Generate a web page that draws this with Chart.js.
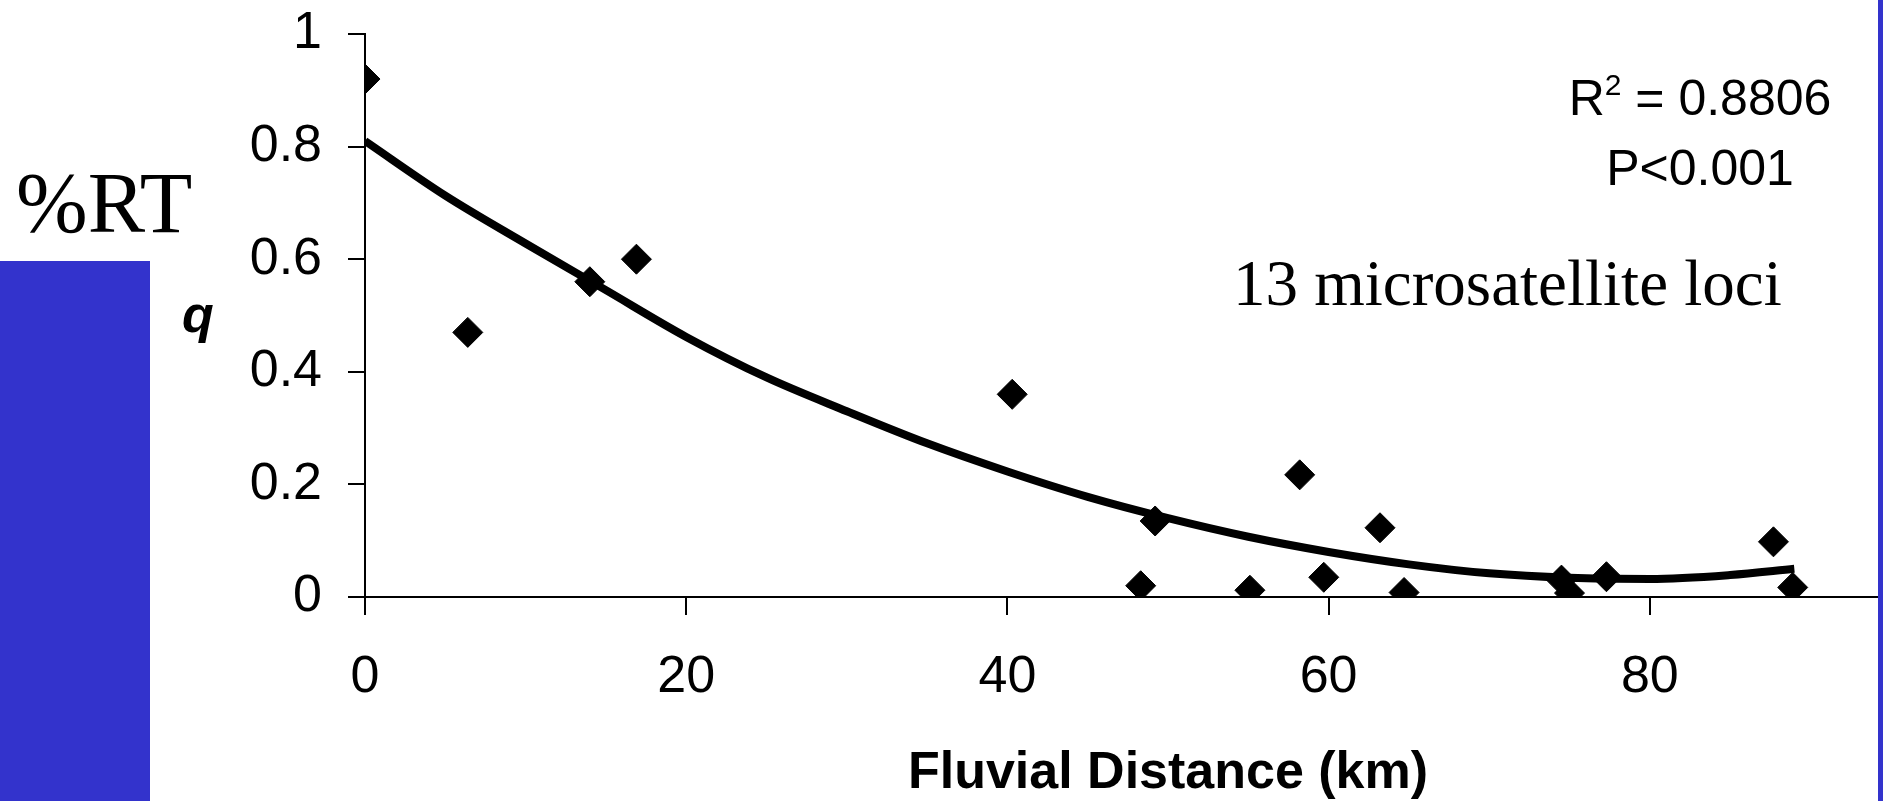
<!DOCTYPE html>
<html>
<head>
<meta charset="utf-8">
<script src="https://cdn.jsdelivr.net/npm/chart.js@4/dist/chart.umd.min.js"></script>
<style>
  html, body { margin: 0; padding: 0; background: #fff; overflow: hidden; }
  #wrap { position: relative; width: 2020px; height: 801px; }
  #wrap canvas { position: absolute; left: 0; top: 0; }
  .bar { position: absolute; background: #3333cc; }
</style>
</head>
<body>
<div id="wrap">
  <canvas id="chart"></canvas>
  <div class="bar" style="left:0;top:261px;width:150px;height:540px"></div>
  <div class="bar" style="left:1878px;top:0;width:142px;height:801px"></div>
</div>
<script>
// sampled sites: fluvial distance (km) and q
const distanceKm = [0, 6.4, 14.0, 16.9, 40.3, 48.3, 49.2, 55.1, 58.2, 59.7, 63.2, 64.7, 74.5, 75.0, 77.3, 87.7, 88.9];
const qValues = [0.92, 0.47, 0.56, 0.60, 0.36, 0.02, 0.135, 0.012, 0.217, 0.035, 0.123, 0.008, 0.03, 0.007, 0.036, 0.098, 0.017];

// polynomial trend line as drawn
const trendKm = [0, 5, 10, 15, 20, 25, 30, 35, 40, 45, 50, 55, 60, 65, 70, 75, 80, 85, 89];
const trendQ = [0.81, 0.713, 0.628, 0.545, 0.462, 0.39, 0.33, 0.273, 0.223, 0.178, 0.14, 0.107, 0.08, 0.058, 0.042, 0.034, 0.032, 0.039, 0.05];

const SANS = '"Liberation Sans", Arial, sans-serif';
const SERIF = '"Liberation Serif", "Times New Roman", serif';

const labelsPlugin = {
  id: "labels",
  afterDraw(chart) {
    const ctx = chart.ctx;
    ctx.save();
    ctx.fillStyle = "#000";
    ctx.textBaseline = "alphabetic";

    ctx.textAlign = "left";
    ctx.font = "86px " + SERIF;
    ctx.fillText("%RT", 16, 232);

    // y axis title sits upright beside the ticks
    ctx.font = "italic bold 52px " + SANS;
    ctx.fillText("q", 182, 332);

    // R² and P value, centred on one column
    const cx = 1700;
    ctx.font = "50px " + SANS;
    const wR = ctx.measureText("R").width;
    const wRest = ctx.measureText(" = 0.8806").width;
    ctx.font = "30px " + SANS;
    const wSup = ctx.measureText("2").width;
    const x = cx - (wR + wSup + wRest) / 2;
    ctx.font = "50px " + SANS;
    ctx.fillText("R", x, 115);
    ctx.font = "30px " + SANS;
    ctx.fillText("2", x + wR, 95);
    ctx.font = "50px " + SANS;
    ctx.fillText(" = 0.8806", x + wR + wSup, 115);
    ctx.textAlign = "center";
    ctx.fillText("P<0.001", cx, 185);

    ctx.textAlign = "left";
    ctx.font = "65px " + SERIF;
    ctx.fillText("13 microsatellite loci", 1233, 305);
    ctx.restore();
  },
};

new Chart(document.getElementById("chart"), {
  type: "scatter",
  data: {
    datasets: [
      {
        data: distanceKm.map((d, i) => ({ x: d, y: qValues[i] })),
        pointStyle: "rectRot",
        pointRadius: 15,
        pointHoverRadius: 15,
        backgroundColor: "#000",
        borderColor: "#000",
        borderWidth: 1,
      },
      {
        type: "line",
        data: trendKm.map((d, i) => ({ x: d, y: trendQ[i] })),
        borderColor: "#000",
        borderWidth: 8,
        pointRadius: 0,
        cubicInterpolationMode: "monotone",
        fill: false,
      },
    ],
  },
  options: {
    responsive: true,
    maintainAspectRatio: false,
    animation: false,
    layout: { padding: { left: 0, top: 34, right: 49, bottom: 0 } },
    plugins: { legend: { display: false }, tooltip: { enabled: false } },
    scales: {
      x: {
        type: "linear",
        min: 0,
        max: 100,
        afterFit: (scale) => {
          scale.height = 204;
          scale.paddingLeft = 0;
          scale.paddingRight = 0;
        },
        grid: { drawOnChartArea: false, tickLength: 18, color: "#000", lineWidth: 2 },
        border: { color: "#000", width: 2 },
        ticks: { stepSize: 20, color: "#000", padding: 31, font: { family: SANS, size: 52 } },
        title: {
          display: true,
          text: "Fluvial Distance (km)",
          color: "#000",
          font: { family: SANS, size: 52, weight: "bold", lineHeight: 1 },
          padding: { top: 0, bottom: 1 },
        },
      },
      y: {
        min: 0,
        max: 1,
        afterFit: (scale) => {
          scale.width = 365;
          scale.paddingTop = 0;
          scale.paddingBottom = 0;
        },
        grid: { drawOnChartArea: false, tickLength: 17, color: "#000", lineWidth: 2 },
        border: { color: "#000", width: 2 },
        ticks: {
          stepSize: 0.2,
          color: "#000",
          padding: 26,
          font: { family: SANS, size: 52 },
          callback: (v) => String(+v.toFixed(1)),
        },
      },
    },
  },
  plugins: [labelsPlugin],
});
</script>
</body>
</html>
